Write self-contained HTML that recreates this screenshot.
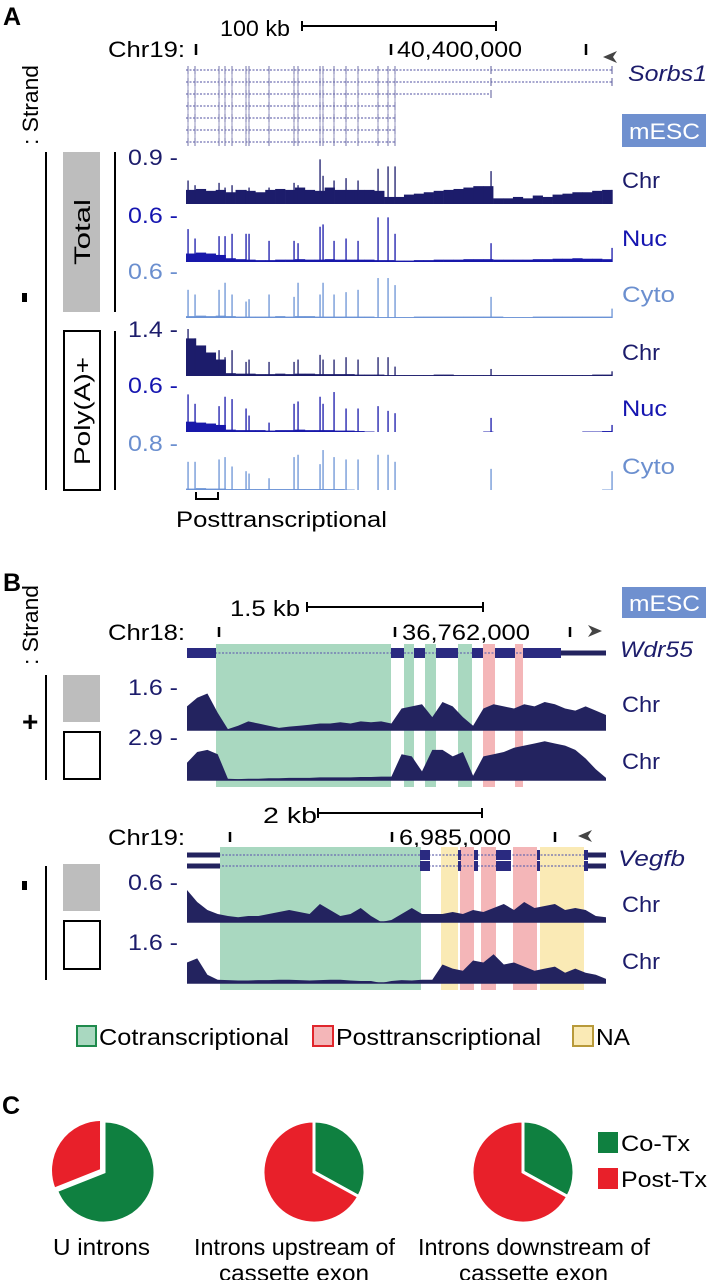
<!DOCTYPE html>
<html><head><meta charset="utf-8"><style>
html,body{margin:0;padding:0;background:#fff;}
svg{display:block;font-family:"Liberation Sans",Arial,sans-serif;}
</style></head><body>
<svg id="fig" width="707" height="1280" viewBox="0 0 707 1280">
<g id="static">
  <!-- Panel A -->
  <text x="3" y="25" font-size="25" font-weight="bold">A</text>
  <text x="220" y="36" font-size="22" textLength="70" lengthAdjust="spacingAndGlyphs">100 kb</text>
  <g stroke="#000" stroke-width="2"><line x1="302" y1="26" x2="496" y2="26"/><line x1="302" y1="21" x2="302" y2="31"/><line x1="496" y1="21" x2="496" y2="31"/></g>
  <text x="108" y="57" font-size="22" textLength="77" lengthAdjust="spacingAndGlyphs">Chr19:</text>
  <g stroke="#000" stroke-width="2.5"><line x1="196" y1="44" x2="196" y2="55"/><line x1="391" y1="44" x2="391" y2="55"/><line x1="586" y1="44" x2="586" y2="55"/></g>
  <text x="397" y="57" font-size="22" textLength="125" lengthAdjust="spacingAndGlyphs">40,400,000</text>
  <path d="M603 57 L617 51 L613 57 L617 63 Z" fill="#444"/>
  <text x="628" y="81" font-size="22" font-style="italic" fill="#1c1c6b" textLength="79" lengthAdjust="spacingAndGlyphs">Sorbs1</text>
  <rect x="622" y="114" width="84" height="33" fill="#6f90cf"/>
  <text x="629" y="139" font-size="22" fill="#fff" textLength="71" lengthAdjust="spacingAndGlyphs">mESC</text>
  <text transform="translate(38,105) rotate(-90)" font-size="22" text-anchor="middle" textLength="80" lengthAdjust="spacingAndGlyphs">: Strand</text>
  <line x1="46" y1="152" x2="46" y2="490" stroke="#000" stroke-width="2"/>
  <rect x="22" y="293" width="5" height="9" fill="#000"/>
  <rect x="63" y="152" width="37" height="160" fill="#bdbdbd"/>
  <text transform="translate(90,232) rotate(-90)" font-size="22" text-anchor="middle" textLength="66" lengthAdjust="spacingAndGlyphs">Total</text>
  <line x1="115" y1="152" x2="115" y2="312" stroke="#000" stroke-width="2"/>
  <rect x="64" y="331" width="36" height="159" fill="none" stroke="#000" stroke-width="2"/>
  <text transform="translate(90,411) rotate(-90)" font-size="22" text-anchor="middle" textLength="108" lengthAdjust="spacingAndGlyphs">Poly(A)+</text>
  <line x1="115" y1="331" x2="115" y2="490" stroke="#000" stroke-width="2"/>
  <path d="M196 492 V499 H218 V492" fill="none" stroke="#000" stroke-width="2"/>
  <text x="176" y="527" font-size="22" textLength="211" lengthAdjust="spacingAndGlyphs">Posttranscriptional</text>

  <!-- Panel B -->
  <text x="3" y="591" font-size="25" font-weight="bold">B</text>
  <text transform="translate(38,625) rotate(-90)" font-size="22" text-anchor="middle" textLength="80" lengthAdjust="spacingAndGlyphs">: Strand</text>
  <rect x="622" y="587" width="84" height="31" fill="#6f90cf"/>
  <text x="629" y="611" font-size="22" fill="#fff" textLength="71" lengthAdjust="spacingAndGlyphs">mESC</text>
  <text x="230" y="616" font-size="22" textLength="70" lengthAdjust="spacingAndGlyphs">1.5 kb</text>
  <g stroke="#000" stroke-width="2"><line x1="307" y1="607" x2="483" y2="607"/><line x1="307" y1="602" x2="307" y2="612"/><line x1="483" y1="602" x2="483" y2="612"/></g>
  <text x="108" y="640" font-size="22" textLength="77" lengthAdjust="spacingAndGlyphs">Chr18:</text>
  <g stroke="#000" stroke-width="2.5"><line x1="219" y1="627" x2="219" y2="637"/><line x1="395" y1="627" x2="395" y2="637"/><line x1="570" y1="627" x2="570" y2="637"/></g>
  <text x="402" y="640" font-size="22" textLength="128" lengthAdjust="spacingAndGlyphs">36,762,000</text>
  <path d="M602 631 L588 637 L592 631 L588 625 Z" fill="#444"/>
  <text x="620" y="657" font-size="22" font-style="italic" fill="#1c1c6b" textLength="73" lengthAdjust="spacingAndGlyphs">Wdr55</text>
  <text x="22" y="731" font-size="28" font-weight="bold">+</text>
  <line x1="46" y1="675" x2="46" y2="780" stroke="#000" stroke-width="2"/>
  <rect x="63" y="675" width="37" height="47" fill="#bdbdbd"/>
  <rect x="64" y="732" width="36" height="47" fill="none" stroke="#000" stroke-width="2"/>

  <text x="263" y="823" font-size="22" textLength="54" lengthAdjust="spacingAndGlyphs">2 kb</text>
  <g stroke="#000" stroke-width="2"><line x1="318" y1="813" x2="482" y2="813"/><line x1="318" y1="808" x2="318" y2="818"/><line x1="482" y1="808" x2="482" y2="818"/></g>
  <text x="108" y="845" font-size="22" textLength="77" lengthAdjust="spacingAndGlyphs">Chr19:</text>
  <g stroke="#000" stroke-width="2.5"><line x1="230" y1="832" x2="230" y2="842"/><line x1="392" y1="832" x2="392" y2="842"/><line x1="555" y1="832" x2="555" y2="842"/></g>
  <text x="399" y="845" font-size="22" textLength="112" lengthAdjust="spacingAndGlyphs">6,985,000</text>
  <path d="M578 836 L592 830 L588 836 L592 842 Z" fill="#444"/>
  <text x="618" y="866" font-size="22" font-style="italic" fill="#1c1c6b" textLength="67" lengthAdjust="spacingAndGlyphs">Vegfb</text>
  <rect x="22" y="881" width="5" height="9" fill="#000"/>
  <line x1="46" y1="866" x2="46" y2="980" stroke="#000" stroke-width="2"/>
  <rect x="63" y="864" width="37" height="47" fill="#bdbdbd"/>
  <rect x="64" y="921" width="36" height="48" fill="none" stroke="#000" stroke-width="2"/>

  <!-- Legend B -->
  <g>
    <rect x="77" y="1026" width="19" height="20" fill="#a9d8c0" stroke="#1f8a4c" stroke-width="2"/>
    <text x="99" y="1045" font-size="23" textLength="190" lengthAdjust="spacingAndGlyphs">Cotranscriptional</text>
    <rect x="313" y="1026" width="20" height="20" fill="#f4b6b8" stroke="#e0262c" stroke-width="2"/>
    <text x="336" y="1045" font-size="23" textLength="205" lengthAdjust="spacingAndGlyphs">Posttranscriptional</text>
    <rect x="573" y="1026" width="20" height="20" fill="#faeab5" stroke="#b89a3a" stroke-width="2"/>
    <text x="596" y="1045" font-size="23" textLength="34" lengthAdjust="spacingAndGlyphs">NA</text>
  </g>

  <!-- Panel C -->
  <text x="2" y="1114" font-size="25" font-weight="bold">C</text>
  <rect x="598" y="1132" width="20" height="21" fill="#0f8040"/>
  <text x="621" y="1151" font-size="22" textLength="69" lengthAdjust="spacingAndGlyphs">Co-Tx</text>
  <rect x="598" y="1168" width="20" height="21" fill="#e8202a"/>
  <text x="621" y="1187" font-size="22" textLength="86" lengthAdjust="spacingAndGlyphs">Post-Tx</text>
  <text x="53" y="1255" font-size="23" textLength="97" lengthAdjust="spacingAndGlyphs">U introns</text>
  <text x="194" y="1255" font-size="23" textLength="201" lengthAdjust="spacingAndGlyphs">Introns upstream of</text>
  <text x="219" y="1281" font-size="23" textLength="150" lengthAdjust="spacingAndGlyphs">cassette exon</text>
  <text x="418" y="1255" font-size="23" textLength="232" lengthAdjust="spacingAndGlyphs">Introns downstream of</text>
  <text x="459" y="1281" font-size="23" textLength="149" lengthAdjust="spacingAndGlyphs">cassette exon</text>
</g>
<g id="dyn"></g>
</svg>
<script>
// ---------- Panel A data ----------
const exonPos = [2,9,33,39,46,60,63,83,108,112,134,137,148,160,172,192,202,209,305,426];
const trackNames = ['Chr','Nuc','Cyto','Chr','Nuc','Cyto'];
const trackScales = ['0.9','0.6','0.6','1.4','0.6','0.8'];
const spikesTotChr = [0.5,0.4,0.45,0.35,0.4,0.3,0.35,0.35,0.45,0.4,0.95,0.6,0.5,0.55,0.5,0.75,0.8,0.8,0.7,0.3];
const spikesTotNuc = [0.7,0.5,0.55,0.55,0.6,0.6,0.6,0.45,0.45,0.4,0.75,0.8,0.45,0.5,0.45,0.95,0.95,0.6,0.4,0.3];
const spikesTotCyto = [0.6,0.5,0.6,0.75,0.5,0.35,0.4,0.5,0.45,0.75,0.5,0.75,0.5,0.55,0.6,0.85,0.85,0.7,0.45,0.2];
const spikesPaChr = [1.0,0.8,0.55,0.4,0.55,0.3,0.35,0.3,0.3,0.35,0.45,0.35,0.35,0.4,0.35,0.4,0.4,0.2,0.15,0.1];
const spikesPaNuc = [0.8,0.6,0.55,0.75,0.7,0.5,0.35,0.2,0.6,0.65,0.75,0.6,0.85,0.5,0.5,0.55,0.45,0.4,0.3,0.15];
const spikesPaCyto = [0.6,0.6,0.65,0.7,0.5,0.4,0.35,0.25,0.7,0.75,0.55,0.85,0.7,0.65,0.65,0.75,0.75,0.6,0.45,0.4];
const bgTotChr = [0.3,0.32,0.28,0.3,0.25,0.3,0.28,0.25,0.3,0.32,0.3,0.35,0.3,0.28,0.35,0.3,0.3,0.3,0.3,0.28,0.15,0.15,0.2,0.22,0.25,0.28,0.3,0.32,0.35,0.38,0.38,0.12,0.12,0.15,0.12,0.18,0.15,0.2,0.22,0.25,0.25,0.28,0.3];
const bgTotNuc = [0.18,0.2,0.18,0.15,0.08,0.06,0.05,0.04,0.04,0.05,0.05,0.06,0.05,0.05,0.06,0.05,0.05,0.05,0.05,0.04,0.04,0.03,0.03,0.04,0.04,0.05,0.05,0.05,0.06,0.06,0.06,0.05,0.05,0.05,0.05,0.06,0.06,0.07,0.07,0.08,0.07,0.07,0.06];
const bgTotCyto = [0.04,0.05,0.04,0.05,0.04,0.03,0.03,0.03,0.03,0.04,0.03,0.04,0.04,0.03,0.03,0.03,0.03,0.03,0.03,0.02,0.02,0.02,0.02,0.03,0.03,0.03,0.03,0.03,0.03,0.03,0.03,0.03,0.02,0.02,0.02,0.03,0.03,0.03,0.03,0.03,0.03,0.03,0.03];
const bgPaChr = [0.8,0.65,0.5,0.35,0.06,0.05,0.05,0.04,0.04,0.05,0.04,0.05,0.05,0.04,0.04,0.04,0.04,0.03,0.03,0.03,0.02,0.02,0.02,0.02,0.02,0.03,0.03,0.02,0.02,0.02,0.02,0.02,0.02,0.02,0.02,0.02,0.02,0.02,0.02,0.02,0.02,0.03,0.03];
const bgPaNuc = [0.22,0.2,0.18,0.15,0.05,0.04,0.04,0.04,0.03,0.04,0.04,0.05,0.04,0.04,0.04,0.03,0.03,0.02,0.01,0,0,0,0,0,0,0,0,0,0,0,0.01,0,0,0,0,0,0,0,0,0,0.01,0.01,0.02];
const bgPaCyto = [0.03,0.04,0.03,0.03,0.02,0.02,0.02,0.02,0.02,0.02,0.02,0.02,0.02,0.02,0.02,0.02,0.01,0,0,0,0,0,0,0,0,0,0,0,0,0,0,0,0,0,0,0,0,0,0,0,0,0,0.01];
const transcriptEnds = [426,426,305,209,209,209,209];

// ---------- Panel B data ----------
const wdrTotal = [0.55,0.75,0.85,0.4,0.02,0.1,0.2,0.15,0.1,0.05,0.08,0.1,0.12,0.15,0.15,0.18,0.15,0.2,0.18,0.2,0.15,0.5,0.55,0.6,0.3,0.65,0.55,0.3,0.1,0.5,0.6,0.55,0.5,0.6,0.55,0.65,0.6,0.5,0.45,0.55,0.45,0.35];
const wdrPolyA = [0.4,0.65,0.7,0.6,0.03,0.02,0.03,0.03,0.04,0.04,0.05,0.05,0.05,0.06,0.06,0.06,0.06,0.07,0.07,0.08,0.08,0.6,0.55,0.2,0.7,0.7,0.55,0.65,0.1,0.55,0.6,0.65,0.75,0.8,0.85,0.9,0.85,0.8,0.7,0.5,0.25,0.05];
const vegTotal = [0.8,0.5,0.3,0.2,0.15,0.12,0.15,0.15,0.2,0.25,0.3,0.25,0.2,0.45,0.3,0.15,0.2,0.35,0.15,0.0,0.05,0.2,0.35,0.2,0.2,0.2,0.25,0.2,0.3,0.25,0.35,0.45,0.3,0.5,0.35,0.4,0.45,0.3,0.35,0.3,0.15,0.12];
const vegPolyA = [0.5,0.6,0.2,0.08,0.07,0.06,0.06,0.07,0.07,0.08,0.08,0.07,0.06,0.07,0.08,0.08,0.06,0.05,0.05,0.0,0.05,0.07,0.06,0.08,0.08,0.45,0.35,0.3,0.55,0.5,0.7,0.45,0.5,0.4,0.3,0.35,0.4,0.25,0.35,0.25,0.2,0.1];
const wdrScales = ['1.6','2.9'];
const vegScales = ['0.6','1.6'];
const wdrCo = [[29,204],[217,227],[238,249],[271,285]];
const wdrPost = [[296,308],[328,336]];
const wdrExons = [[0,29],[204,217],[227,238],[249,271],[285,296],[308,328],[336,374]];
const vegCo = [[33,234]];
const vegPost = [[273,287],[294,309],[326,350]];
const vegNA = [[254,271],[353,397]];
const vegExons = [[233,243],[271,274],[287,291],[309,324],[350,353],[397,401]];

// ---------- Panel C data ----------
const pieCategories = ['U introns','Introns upstream of cassette exon','Introns downstream of cassette exon'];
const coTxFrac = [0.69,0.33,0.33];
const postTxFrac = [0.31,0.67,0.67];

const NS='http://www.w3.org/2000/svg';
const dyn=document.getElementById('dyn');
function mk(tag,attrs,parent){const e=document.createElementNS(NS,tag);for(const k in attrs)e.setAttribute(k,attrs[k]);(parent||dyn).appendChild(e);return e;}
const nameWidths={'Chr':38,'Nuc':45,'Cyto':53};

const AX0=186, AW=426;
const ax = p => AX0 + p*AW/426;
const aBase=[204,262,318,376,432,490], aH=47;
const aColors=['#1c1c6b','#1818aa','#6b93d6','#1c1c6b','#1818aa','#6b93d6'];
const aLabelColors=['#1c1c6b','#1515b0','#6b8fcf','#1c1c6b','#1515b0','#6b8fcf'];
const spikeSets=[spikesTotChr,spikesTotNuc,spikesTotCyto,spikesPaChr,spikesPaNuc,spikesPaCyto];
const bgSets=[bgTotChr,bgTotNuc,bgTotCyto,bgPaChr,bgPaNuc,bgPaCyto];

const tg=mk('g',{});


transcriptEnds.forEach((end,i)=>{
  const y=70+i*12;
  const l=mk('line',{x1:ax(0),y1:y,x2:ax(end),y2:y,stroke:'#8a8ac0','stroke-width':1.5,'stroke-dasharray':'2 1.5'},tg);
  
  
  exonPos.forEach(p=>{ if(p<=end){
    const t=mk('line',{x1:ax(p),y1:y-4,x2:ax(p),y2:y+4,stroke:'#5a5a9a','stroke-width':1},tg);
    
    
  }});
});
exonPos.forEach(p=>{ if(p<=209){
  const c=mk('line',{x1:ax(p),y1:66,x2:ax(p),y2:146,stroke:'#7a7ab0','stroke-width':0.8},tg);
  
  
}});

for(let t=0;t<6;t++){
  const g=mk('g',{});
  
  
  const base=aBase[t], col=aColors[t];
  const bg=bgSets[t], bw=AW/bg.length;
  bg.forEach((v,i)=>{ if(v>0){
    const r=mk('rect',{x:AX0+i*bw,y:base-v*aH,width:bw+0.3,height:v*aH,fill:col},g);
    
    
  }});
  spikeSets[t].forEach((v,i)=>{
    const s=mk('rect',{x:ax(exonPos[i])-0.6,y:base-v*aH,width:1.3,height:v*aH,fill:col},g);
    
    
  });
  const sl=mk('text',{x:128,y:base-47+8,'font-size':22,textLength:50,lengthAdjust:'spacingAndGlyphs',fill:aLabelColors[t]},g);
  sl.textContent=trackScales[t]+' -';
  
  
  const nl=mk('text',{x:622,y:base-16,'font-size':22,textLength:nameWidths[trackNames[t]],lengthAdjust:'spacingAndGlyphs',fill:aLabelColors[t]},g);
  nl.textContent=trackNames[t];
  
  
}

const BX0=187, BW=419;
const bx = p => BX0 + p*BW/419;
function highlights(list,color,y1,y2,name){
  list.forEach(([a,b])=>{
    const r=mk('rect',{x:bx(a),y:y1,width:bx(b)-bx(a),height:y2-y1,fill:color});
    
    
  });
}
highlights(wdrCo,'#a9d8c0',644,787,'cotx-highlight');
highlights(wdrPost,'#f4b6b8',644,787,'posttx-highlight');
highlights(vegCo,'#a9d8c0',847,990,'cotx-highlight');
highlights(vegPost,'#f4b6b8',847,990,'posttx-highlight');
highlights(vegNA,'#faeab5',847,990,'na-highlight');

function area(vals,base,h,name){
  const n=vals.length, step=BW/(n-1);
  let d='M'+BX0+' '+base;
  vals.forEach((v,i)=>{d+=' L'+(BX0+i*step).toFixed(1)+' '+(base-v*h).toFixed(1);});
  d+=' L'+(BX0+BW)+' '+base+' Z';
  const p=mk('path',{d:d,fill:'#23235f'});
  
  
  mk('line',{x1:BX0,y1:base,x2:BX0+BW,y2:base,stroke:'#23235f','stroke-width':1.5});
}
area(wdrTotal,730,43,'wdr55-total-coverage');
area(wdrPolyA,780,43,'wdr55-polya-coverage');
area(vegTotal,922,40,'vegfb-total-coverage');
area(vegPolyA,983,41,'vegfb-polya-coverage');

function scaleLabels(arr,ys,names){
  arr.forEach((s,i)=>{
    const t=mk('text',{x:128,y:ys[i],'font-size':22,textLength:50,lengthAdjust:'spacingAndGlyphs',fill:'#1c1c6b'});
    t.textContent=s+' -';
    
    
    const c=mk('text',{x:622,y:names[i],'font-size':22,textLength:38,lengthAdjust:'spacingAndGlyphs',fill:'#1c1c6b'});
    c.textContent='Chr';
    
    
  });
}
scaleLabels(wdrScales,[695,745],[712,769]);
scaleLabels(vegScales,[890,950],[912,969]);

function geneModel(y,exons,thinEnds,name){
  const g=mk('g',{});
  
  
  mk('line',{x1:bx(0),y1:y,x2:bx(419),y2:y,stroke:'#6a6ab0','stroke-width':1.2,'stroke-dasharray':'2 1.5'},g);
  thinEnds.forEach(([a,b])=>mk('rect',{x:bx(a),y:y-2.5,width:bx(b)-bx(a),height:5,fill:'#23235f'},g));
  exons.forEach(([a,b])=>{
    const r=mk('rect',{x:bx(a),y:y-5,width:bx(b)-bx(a),height:10,fill:'#2a2a80'},g);
    
    
  });
}
geneModel(653,wdrExons,[[374,419]],'wdr55-gene-model');
geneModel(855,vegExons,[[0,33],[401,419]],'vegfb-gene-model-1');
geneModel(866,vegExons,[[0,33],[401,419]],'vegfb-gene-model-2');

const pieCx=[104,314,523], pieCy=1172, pieR=51;
function sector(cx,cy,r,a0,a1,fill,name,off){
  const mid=(a0+a1)/2;
  cx+=off*Math.sin(mid); cy+=-off*Math.cos(mid);
  const x0=cx+r*Math.sin(a0), y0=cy-r*Math.cos(a0);
  const x1=cx+r*Math.sin(a1), y1=cy-r*Math.cos(a1);
  const large=(a1-a0)>Math.PI?1:0;
  const p=mk('path',{d:`M${cx} ${cy} L${x0} ${y0} A${r} ${r} 0 ${large} 1 ${x1} ${y1} Z`,fill:fill,stroke:'#fff','stroke-width':3,'stroke-linejoin':'miter'});
  
  
}
pieCategories.forEach((c,i)=>{
  const total=coTxFrac[i]+postTxFrac[i];
  const a=2*Math.PI*coTxFrac[i]/total;
  sector(pieCx[i],pieCy,pieR,0,a,'#0f8040','pie-slice-co-tx',0);
  sector(pieCx[i],pieCy,pieR,a,2*Math.PI,'#e8202a','pie-slice-post-tx',i===0?3:0);
});
</script>
</body></html>
